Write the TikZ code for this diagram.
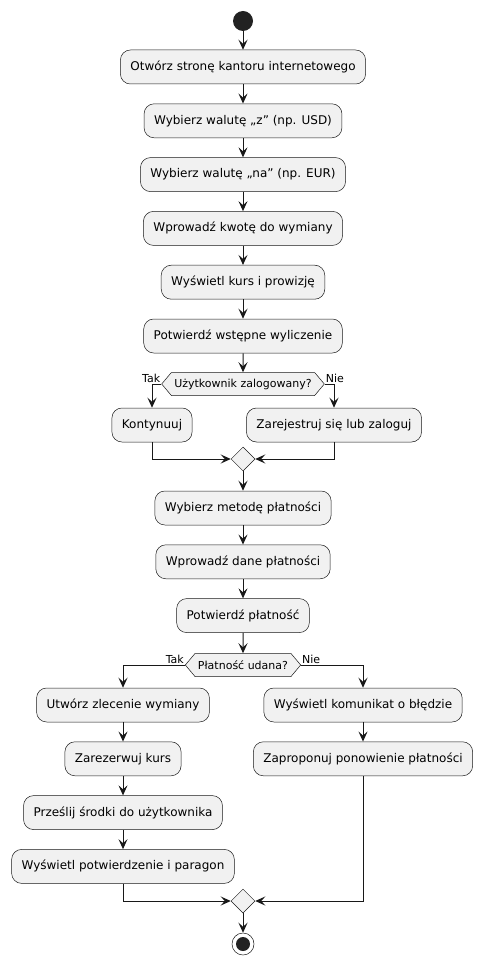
\documentclass[tikz,border=0pt]{standalone}
\usepackage{fontspec}
\setmainfont{DejaVu Sans}
\usetikzlibrary{shapes.geometric, shapes.symbols, arrows.meta}
\definecolor{umlfill}{HTML}{F1F1F1}
\definecolor{umlline}{HTML}{181818}
\definecolor{umldot}{HTML}{222222}
\tikzstyle{activity} = [rectangle, rounded corners=10pt,
minimum height=34pt,
inner xsep=10pt,
text centered,
fill=umlfill, draw=umlline, line width=0.5pt,
font=\fontsize{12}{14}\selectfont]
\tikzstyle{decision} = [signal, signal to=west and east,
signal pointer angle=100,
minimum height=23pt,
inner xsep=3pt, inner ysep=2pt,
fill=umlfill, draw=umlline, line width=0.5pt,
font=\fontsize{11}{13}\selectfont]
\tikzstyle{merge} = [diamond, minimum size=24pt, inner sep=0pt,
fill=umlfill, draw=umlline, line width=0.5pt]
\tikzstyle{guard} = [inner sep=1pt, font=\fontsize{11}{13}\selectfont]
\tikzstyle{startdot} = [circle, fill=umldot, minimum size=20pt, inner sep=0pt]
\tikzstyle{stopdot} = [circle, draw=umlline, fill=white, line width=0.5pt,
minimum size=22pt, inner sep=0pt,
path picture={\fill[umldot] (path picture bounding box.center) circle (7pt);}]
\tikzstyle{arrow} = [line width=1pt, draw=umlline, -{Stealth[length=10pt,width=9pt,inset=4pt]}]

\begin{document}
\begin{tikzpicture}[x=1pt, y=-1pt, node distance=53.8pt]
            \useasboundingbox (0,0) rectangle (483,965);
            \node (start) [startdot] at (243,21) {};
            \node (open) [activity] at (243,67) {Otwórz stronę kantoru internetowego};
            \node (from-cur) [activity, below of=open] {Wybierz walutę „z” (np. USD)};
            \node (to-cur) [activity, below of=from-cur] {Wybierz walutę „na” (np. EUR)};
            \node (amount) [activity, below of=to-cur] {Wprowadź kwotę do wymiany};
            \node (rate) [activity, below of=amount] {Wyświetl kurs i prowizję};
            \node (estimate) [activity, below of=rate] {Potwierdź wstępne wyliczenie};
            \node (logged) [decision] at (243,384) {Użytkownik zalogowany?};
            \node (logged-yes) [guard, anchor=south east] at (logged.west) {Tak};
            \node (logged-no) [guard, anchor=south west] at (logged.east) {Nie};
            \node (go-on) [activity] at (152,425) {Kontynuuj};
            \node (sign-in) [activity] at (334,425) {Zarejestruj się lub zaloguj};
            \node (merge1) [merge] at (243,459) {};
            \node (method) [activity] at (243,508) {Wybierz metodę płatności};
            \node (pay-data) [activity, below of=method] {Wprowadź dane płatności};
            \node (pay) [activity, below of=pay-data] {Potwierdź płatność};
            \node (paid) [decision] at (243,665) {Płatność udana?};
            \node (paid-yes) [guard, anchor=south east] at (paid.west) {Tak};
            \node (paid-no) [guard, anchor=south west] at (paid.east) {Nie};
            \node (order) [activity] at (123,705) {Utwórz zlecenie wymiany};
            \node (reserve) [activity, below of=order] {Zarezerwuj kurs};
            \node (transfer) [activity, below of=reserve] {Prześlij środki do użytkownika};
            \node (receipt) [activity, below of=transfer] {Wyświetl potwierdzenie i paragon};
            \node (error) [activity] at (363,705) {Wyświetl komunikat o błędzie};
            \node (retry) [activity, below of=error] {Zaproponuj ponowienie płatności};
            \node (merge2) [merge] at (243,901) {};
            \node (stop) [stopdot] at (243,944) {};

            \draw [arrow] (start) -- (open);
            \draw [arrow] (open) -- (from-cur);
            \draw [arrow] (from-cur) -- (to-cur);
            \draw [arrow] (to-cur) -- (amount);
            \draw [arrow] (amount) -- (rate);
            \draw [arrow] (rate) -- (estimate);
            \draw [arrow] (estimate) -- (logged);
            \draw [arrow] (logged.west) -| (go-on);
            \draw [arrow] (logged.east) -| (sign-in);
            \draw [arrow] (go-on) |- (merge1);
            \draw [arrow] (sign-in) |- (merge1);
            \draw [arrow] (merge1) -- (method);
            \draw [arrow] (method) -- (pay-data);
            \draw [arrow] (pay-data) -- (pay);
            \draw [arrow] (pay) -- (paid);
            \draw [arrow] (paid.west) -| (order);
            \draw [arrow] (paid.east) -| (error);
            \draw [arrow] (order) -- (reserve);
            \draw [arrow] (reserve) -- (transfer);
            \draw [arrow] (transfer) -- (receipt);
            \draw [arrow] (error) -- (retry);
            \draw [arrow] (receipt) |- (merge2);
            \draw [arrow] (retry) |- (merge2);
            \draw [arrow] (merge2) -- (stop);
        \end{tikzpicture}
\end{document}
